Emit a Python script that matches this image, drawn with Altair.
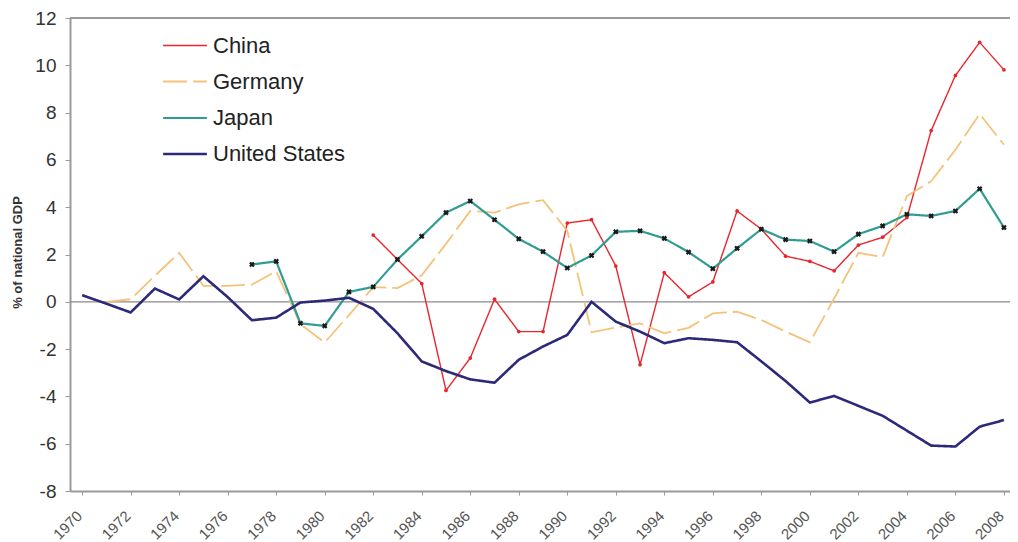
import altair as alt
import pandas as pd

years = list(range(1970, 2009))

china = [None]*12 + [2.82, 1.79, 0.77, -3.75, -2.38, 0.11, -1.26, -1.26, 3.33, 3.47,
                     1.51, -2.66, 1.23, 0.21, 0.84, 3.84, 3.07, 1.93, 1.71, 1.31,
                     2.40, 2.73, 3.56, 7.24, 9.57, 10.97, 9.81]
germany = [None, 0.0, 0.11, 1.10, 2.07, 0.67, 0.67, 0.73, 1.29, -0.95,
           -1.72, -0.56, 0.62, 0.58, 1.12, 2.45, 3.84, 3.77, 4.12, 4.30,
           3.00, -1.29, -1.09, -0.91, -1.33, -1.10, -0.49, -0.42, -0.77, -1.26,
           -1.71, 0.14, 2.07, 1.89, 4.47, 5.10, 6.43, 7.94, 6.64]
japan = [None]*7 + [1.58, 1.71, -0.91, -1.02, 0.42, 0.63, 1.79, 2.77, 3.77, 4.26,
                    3.47, 2.66, 2.12, 1.43, 1.96, 2.96, 3.00, 2.68, 2.10, 1.40,
                    2.26, 3.07, 2.63, 2.57, 2.12, 2.86, 3.21, 3.70, 3.63, 3.84,
                    4.78, 3.14]
usa = [0.28, -0.08, -0.45, 0.56, 0.10, 1.08, 0.20, -0.78, -0.67, -0.03,
       0.05, 0.17, -0.30, -1.33, -2.52, -2.93, -3.28, -3.42, -2.45, -1.89,
       -1.40, 0.00, -0.84, -1.26, -1.75, -1.54, -1.61, -1.71, -2.52, -3.35,
       -4.26, -3.98, -4.40, -4.82, -5.45, -6.08, -6.12, -5.28, -5.00]

countries = ["China", "Germany", "Japan", "United States"]
colors = ["#e8262e", "#f5c27a", "#2f9c94", "#2c2a78"]
dashes = [[1, 0], [24, 6], [1, 0], [1, 0]]
widths = [1.4, 2.6, 1.2, 3.4]

series = {"China": china, "Germany": germany, "Japan": japan, "United States": usa}
rows = []
for c in countries:
    for y, v in zip(years, series[c]):
        if v is not None:
            rows.append({"year": y, "value": v, "country": c})
df = pd.DataFrame(rows)

FONT = "Liberation Sans"

leg = alt.Legend(
    title=None, orient="none", legendX=96, legendY=9, padding=0,
    symbolType="M-1.25,0H1.25", symbolSize=1225, rowPadding=6,
    labelFontSize=22, labelFont=FONT, labelColor="#222222", labelOffset=9,
    symbolFillColor="transparent",
)

x = alt.X("year:Q",
          scale=alt.Scale(domain=[1969.5, 2008.25], nice=False, zero=False),
          axis=alt.Axis(values=list(range(1970, 2009, 2)), format="d", title=None,
                        labelAngle=-45, labelFontSize=15, labelColor="#555555",
                        labelFont=FONT, tickColor="#9a9a9a", tickSize=4,
                        domainColor="#9a9a9a", domainWidth=2, grid=False,
                        labelPadding=13, labelOffset=-8))
y = alt.Y("value:Q",
          scale=alt.Scale(domain=[-8, 12], nice=False, zero=False),
          axis=alt.Axis(values=list(range(-8, 13, 2)), title="% of national GDP",
                        labelExpr="'' + datum.value",
                        titleFontSize=13, titleFontWeight="bold", titleFont=FONT,
                        titleColor="#333333", titleX=-53, titleY=234,
                        titleAngle=-90, titleAlign="center", titleBaseline="middle",
                        labelFontSize=19, labelFont=FONT, labelColor="#333333",
                        tickColor="#9a9a9a", tickSize=5, labelPadding=9,
                        domainColor="#9a9a9a", domainWidth=2, grid=False))

base = alt.Chart(df)

lines = base.mark_line(clip=True).encode(
    x=x, y=y,
    color=alt.Color("country:N", scale=alt.Scale(domain=countries, range=colors), legend=leg),
    strokeDash=alt.StrokeDash("country:N", scale=alt.Scale(domain=countries, range=dashes), legend=leg),
    strokeWidth=alt.StrokeWidth("country:N", scale=alt.Scale(domain=countries, range=widths), legend=leg),
    order=alt.Order("year:Q"),
)

china_pts = base.transform_filter(alt.datum.country == "China").mark_point(
    filled=True, shape="circle", size=14, color="#e8262e", opacity=1, clip=True
).encode(x=x, y=y)

japan_pts = base.transform_filter(alt.datum.country == "Japan").mark_point(
    filled=True, shape="cross", angle=45, size=32, color="#1a1a1a", opacity=1, clip=True
).encode(x=x, y=y)

zero = alt.Chart(pd.DataFrame({"v": [0]})).mark_rule(color="#8a8a8a", strokeWidth=1.2).encode(
    y=alt.Y("v:Q", scale=alt.Scale(domain=[-8, 12], nice=False)))
top = alt.Chart(pd.DataFrame({"v": [12]})).mark_rule(color="#9a9a9a", strokeWidth=2).encode(
    y=alt.Y("v:Q", scale=alt.Scale(domain=[-8, 12], nice=False)))

chart = alt.layer(zero, top, lines, china_pts, japan_pts).properties(
    width=940, height=473,
    autosize=alt.AutoSizeParams(type="none"),
    padding={"left": 62, "top": 10, "right": 0, "bottom": 51},
).configure_view(stroke=None).configure(background="white")

chart.save("out.html", embed_options={"renderer": "svg", "actions": False})
